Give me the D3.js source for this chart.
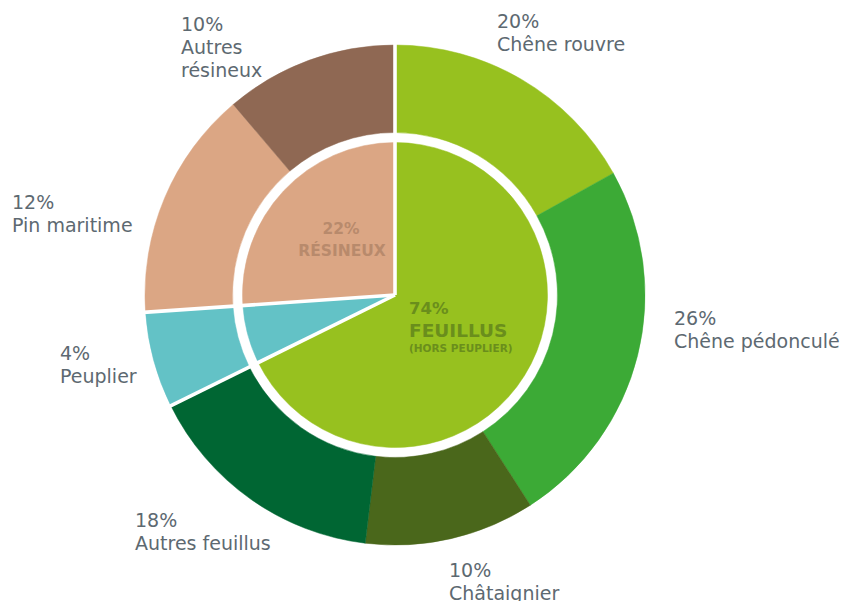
<!DOCTYPE html>
<html>
<head>
<meta charset="utf-8">
<script src="https://cdn.jsdelivr.net/npm/d3@7"></script>
<style>
  html, body { margin: 0; padding: 0; background: #fff; }
  svg { display: block; }
  .lbl { font-family: "DejaVu Sans", sans-serif; font-size: 19px; fill: #5d6971; }
  .inner { font-family: "DejaVu Sans", sans-serif; font-weight: bold; }
</style>
</head>
<body>
<svg id="chart" width="847" height="601"></svg>
<script>
// species in the outer ring, clockwise from 12 o'clock
const species = ["Chêne rouvre", "Chêne pédonculé", "Châtaignier", "Autres feuillus",
                 "Peuplier", "Pin maritime", "Autres résineux"];
const speciesGroup = ["feuillus", "feuillus", "feuillus", "feuillus",
                      "peuplier", "résineux", "résineux"];
// percentages printed on the labels
const labelPct = [20, 26, 10, 18, 4, 12, 10];
// share of the circle each slice actually occupies in the reference (%)
const drawnShare = [16.9, 24.0, 11.0, 15.8, 6.2, 14.9, 11.2];

const speciesColor = ["#97c11f", "#3caa36", "#4a671b", "#006633", "#63c2c6", "#dba684", "#8f6853"];
const groupColor = { "feuillus": "#97c11f", "peuplier": "#63c2c6", "résineux": "#dba684" };

const W = 847, H = 601;
const cx = 395, cy = 295;
const R = 250, ringIn = 162.5, pieR = 152.5;

const svg = d3.select("#chart");
const g = svg.append("g").attr("transform", `translate(${cx},${cy})`);

const rows = species.map((name, i) => ({
  name, group: speciesGroup[i], pct: labelPct[i], share: drawnShare[i], color: speciesColor[i]
}));

const pie = d3.pie().sort(null).value(d => d.share);

// outer ring
const outerArc = d3.arc().innerRadius(ringIn).outerRadius(R);
g.append("g").selectAll("path")
  .data(pie(rows))
  .join("path")
  .attr("d", outerArc)
  .attr("fill", d => d.data.color)
  .attr("stroke", d => d.data.color)
  .attr("stroke-width", 0.5);

// inner pie: sums of the species per group, same order
const groupRows = Array.from(d3.rollup(rows, v => d3.sum(v, d => d.share), d => d.group),
  ([group, share]) => ({ group, share }));
const innerArc = d3.arc().innerRadius(0).outerRadius(pieR);
const innerSlices = pie(groupRows);
g.append("g").selectAll("path")
  .data(innerSlices)
  .join("path")
  .attr("d", innerArc)
  .attr("fill", d => groupColor[d.data.group])
  .attr("stroke", d => groupColor[d.data.group])
  .attr("stroke-width", 0.5);

// white separators at group boundaries, through both rings
g.append("g").selectAll("line")
  .data(innerSlices)
  .join("line")
  .attr("x1", 0).attr("y1", 0)
  .attr("x2", d => Math.sin(d.startAngle) * (R + 2))
  .attr("y2", d => -Math.cos(d.startAngle) * (R + 2))
  .attr("stroke", "#fff")
  .attr("stroke-width", 3.6)
  .attr("stroke-linecap", "butt");

// outer labels
const labelPos = [
  { x: 497, y: 28 },
  { x: 674, y: 324.5 },
  { x: 449, y: 577 },
  { x: 135, y: 527 },
  { x: 60, y: 360 },
  { x: 12, y: 208.5 },
  { x: 181, y: 30.7 }
];
const labelLines = [
  ["Chêne rouvre"],
  ["Chêne pédonculé"],
  ["Châtaignier"],
  ["Autres feuillus"],
  ["Peuplier"],
  ["Pin maritime"],
  ["Autres", "résineux"]
];
const lineH = 23.3;
const labels = svg.append("g").selectAll("text")
  .data(rows)
  .join("text")
  .attr("class", "lbl")
  .attr("x", (d, i) => labelPos[i].x)
  .attr("y", (d, i) => labelPos[i].y);
labels.each(function(d, i) {
  const t = d3.select(this);
  t.append("tspan").attr("x", labelPos[i].x).text(d.pct + "%");
  labelLines[i].forEach(s => t.append("tspan").attr("x", labelPos[i].x).attr("dy", lineH).text(s));
});

// inner labels
const feuillusLines = ["74%", "FEUILLUS", "(HORS PEUPLIER)"];
const resineuxLines = ["22%", "RÉSINEUX"];

const fl = svg.append("text").attr("class", "inner").attr("fill", "#6a8e1c");
fl.append("tspan").attr("x", 409).attr("y", 314.3).attr("font-size", 16.5).text(feuillusLines[0]);
fl.append("tspan").attr("x", 409).attr("y", 336.7).attr("font-size", 18.5).text(feuillusLines[1]);
fl.append("tspan").attr("x", 409).attr("y", 352).attr("font-size", 10.5).text(feuillusLines[2]);

const rl = svg.append("text").attr("class", "inner").attr("fill", "#b88a6c")
  .attr("text-anchor", "middle").attr("font-size", 15.5);
rl.append("tspan").attr("x", 341).attr("y", 234).text(resineuxLines[0]);
rl.append("tspan").attr("x", 342).attr("y", 256).text(resineuxLines[1]);
</script>
</body>
</html>
